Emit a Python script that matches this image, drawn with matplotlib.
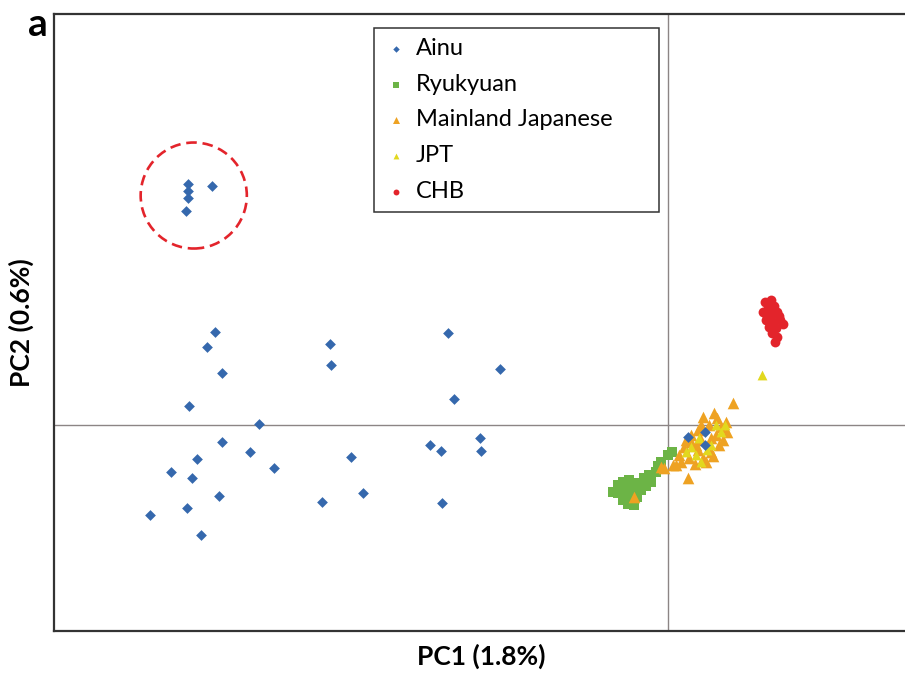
import matplotlib
matplotlib.use("Agg")
import matplotlib.pyplot as plt
from matplotlib.patches import Ellipse

plt.rcParams["font.family"] = ["Lato", "DejaVu Sans"]

# ------------------------------------------------------------------ data
# PC1 / PC2 scores
ainu_x = [-0.452, -0.460, -0.445, -0.478, -0.408, -0.445, -0.417, -0.470, -0.496,
          -0.475, -0.393, -0.448, -0.480, -0.517, -0.466, -0.337, -0.336, -0.316,
          -0.305, -0.345, -0.220, -0.168, -0.214, -0.238, -0.227, -0.188, -0.187,
          -0.226, -0.479, -0.479, -0.479, -0.481, -0.455, 0.020, 0.037, 0.037]
ainu_y = [0.093, 0.078, 0.052, 0.019, 0.001, -0.017, -0.027, -0.034, -0.047,
          -0.053, -0.043, -0.071, -0.083, -0.090, -0.110, 0.081, 0.060, -0.032,
          -0.068, -0.077, 0.092, 0.056, 0.026, -0.020, -0.026, -0.013, -0.026,
          -0.078, 0.241, 0.234, 0.227, 0.214, 0.239, -0.012, -0.007, -0.020]

ryukyu_x = [-0.050, -0.050, -0.045, -0.040, -0.037, -0.043, -0.035, -0.030, -0.027,
            -0.031, -0.024, -0.019, -0.017, -0.012, -0.010, -0.007, 0.000, 0.004,
            -0.022, -0.039, -0.055, -0.034, -0.045]
ryukyu_y = [-0.060, -0.068, -0.075, -0.079, -0.072, -0.065, -0.063, -0.058, -0.065,
            -0.072, -0.053, -0.050, -0.057, -0.047, -0.041, -0.037, -0.030, -0.027,
            -0.061, -0.055, -0.067, -0.080, -0.057]

mainland_x = [0.065, 0.035, 0.046, 0.058, 0.041, 0.053, 0.030, 0.048, 0.059, 0.023,
              0.016, 0.030, 0.043, 0.051, 0.055, 0.011, 0.021, 0.035, 0.027, 0.038,
              0.045, 0.013, 0.005, -0.004, 0.020, 0.008, -0.007, -0.034, 0.033, 0.023,
              0.049, 0.018, 0.043, 0.028, 0.033]
mainland_y = [0.022, 0.008, 0.012, 0.003, 0.000, -0.002, -0.005, -0.010, -0.007, -0.017,
              -0.022, -0.025, -0.027, -0.020, -0.015, -0.030, -0.033, -0.033, -0.039, -0.037,
              -0.031, -0.037, -0.040, -0.043, -0.053, -0.040, -0.042, -0.072, -0.015, -0.010,
              0.007, -0.015, -0.013, -0.020, 0.000]

jpt_x = [0.094, 0.028, 0.043, 0.053, 0.018, 0.031, 0.039, 0.048, 0.023, 0.033, 0.057]
jpt_y = [0.050, -0.030, -0.020, -0.007, -0.027, -0.013, -0.025, 0.000, -0.022, -0.037, 0.000]

chb_x = [0.097, 0.103, 0.100, 0.106, 0.095, 0.103, 0.109, 0.098, 0.105, 0.112,
         0.101, 0.108, 0.115, 0.104, 0.109, 0.107, 0.099, 0.111, 0.103]
chb_y = [0.123, 0.125, 0.117, 0.119, 0.113, 0.110, 0.113, 0.105, 0.103, 0.105,
         0.098, 0.097, 0.101, 0.092, 0.088, 0.083, 0.109, 0.109, 0.115]

labels = ["Ainu", "Ryukyuan", "Mainland Japanese", "JPT", "CHB"]

# highlighted Ainu outliers (centre, radius)
circle_xy = (-0.4735, 0.2295)
circle_r = 0.053

# ------------------------------------------------------------------ plot
BLUE = "#3568ad"
GREEN = "#6cb446"
ORANGE = "#eea222"
YELLOW = "#e2d81e"
RED = "#e3242b"

fig = plt.figure(figsize=(9.05, 6.75), dpi=100)
ax = fig.add_axes([0.0597, 0.0652, 0.944, 0.914])

ax.axhline(0, color="#8c8585", lw=1.0, zorder=1)
ax.axvline(0, color="#8c8585", lw=1.0, zorder=1)

h_ry = ax.scatter(ryukyu_x, ryukyu_y, marker="s", s=55, color=GREEN, lw=0, zorder=2)
h_ml = ax.scatter(mainland_x, mainland_y, marker="^", s=70, color=ORANGE, lw=0, zorder=3)
h_jp = ax.scatter(jpt_x, jpt_y, marker="^", s=50, color=YELLOW, lw=0, zorder=4)
h_ai = ax.scatter(ainu_x, ainu_y, marker="D", s=30, color=BLUE, lw=0, zorder=5)
h_ch = ax.scatter(chb_x, chb_y, marker="o", s=50, color=RED, lw=0, zorder=5)

ax.add_patch(Ellipse(circle_xy, 2 * circle_r, 2 * circle_r, fill=False,
                     edgecolor=RED, lw=1.9, ls=(0, (4, 2.2)), zorder=6))

ax.set_xlim(-0.613, 0.240)
ax.set_ylim(-0.206, 0.411)
ax.set_xticks([])
ax.set_yticks([])
for spine in ax.spines.values():
    spine.set_linewidth(1.6)
    spine.set_color("#333333")

ax.set_xlabel("PC1 (1.8%)", fontsize=19, fontweight="bold")
ax.set_ylabel("PC2 (0.6%)", fontsize=19, fontweight="bold")
ax.xaxis.set_label_coords(0.5, -0.020)
ax.yaxis.set_label_coords(-0.024, 0.5)

leg = ax.legend([h_ai, h_ry, h_ml, h_jp, h_ch], labels, loc="upper left",
                bbox_to_anchor=(0.3749, 0.6, 0.3337, 0.377), mode="expand",
                borderaxespad=0, fontsize=17, markerscale=0.6,
                handlelength=1.0, handletextpad=0.35, labelspacing=0.62,
                borderpad=0.42, fancybox=False, framealpha=1)
leg.get_frame().set_edgecolor("#333333")
leg.get_frame().set_linewidth(1.1)

fig.text(38 / 905, 1 - 25 / 675, "a", fontsize=28, fontweight="bold",
         ha="center", va="center")

fig.savefig("out.png", dpi=100, facecolor="white")
